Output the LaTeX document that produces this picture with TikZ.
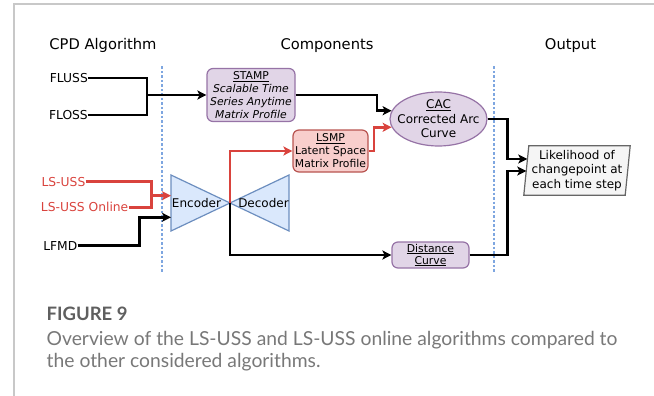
\documentclass[tikz,border=0pt]{standalone}
\usepackage{fontspec}
\setmainfont{DejaVu Sans}[ItalicFont=DejaVu Sans Oblique, BoldFont=DejaVu Sans Bold]
\newfontfamily\capfont{Lato}
\usetikzlibrary{arrows.meta,backgrounds,shapes.geometric}

\definecolor{wirered}{RGB}{217,67,61}
\definecolor{sepblue}{RGB}{126,166,224}
\definecolor{purplefill}{HTML}{E1D5E7}
\definecolor{purpleline}{HTML}{9673A6}
\definecolor{redfill}{HTML}{F8CECC}
\definecolor{redline}{HTML}{B85450}
\definecolor{bluefill}{HTML}{DAE8FC}
\definecolor{blueline}{HTML}{6C8EBF}
\definecolor{greyfill}{HTML}{F5F5F5}
\definecolor{greyline}{HTML}{666666}
\definecolor{framegrey}{RGB}{200,200,200}
\definecolor{figgrey}{RGB}{95,95,95}
\definecolor{capgrey}{RGB}{120,120,120}

\begin{document}
\begin{tikzpicture}[x=1pt,y=-1pt,
  heading/.style={font=\fontsize{14.7}{17}\selectfont, anchor=base},
  algo/.style={font=\fontsize{12.3}{14}\selectfont, inner sep=0pt,
    text height=9pt, text depth=0pt, anchor=east},
  boxtext/.style={font=\fontsize{10.8}{13}\selectfont, align=center},
  purplebox/.style={boxtext, draw=purpleline, fill=purplefill, line width=1.2pt,
    rounded corners=6pt, inner sep=1pt},
  redbox/.style={boxtext, draw=redline, fill=redfill, line width=1.2pt,
    rounded corners=6pt, inner sep=1pt},
  midtext/.style={font=\fontsize{12}{14.5}\selectfont, align=center, inner sep=0pt},
  tip/.style={-{Stealth[length=9pt,width=9pt,inset=2.2pt]}},
  wire/.style={line width=2.8pt, line join=miter, black},
  redwire/.style={line width=2.8pt, line join=miter, wirered},
  separator/.style={sepblue, line width=1.2pt, dash pattern=on 2.5pt off 2pt},
  triangle/.style={draw=blueline, fill=bluefill, line width=1.2pt, line join=miter}
]
\useasboundingbox (0,0) rectangle (654,396);

% page frame
\draw[framegrey, line width=1.3pt] (654,4) -- (14,4) -- (14,396);

% column headings
\node[heading] (hcpd) at (103,49.5) {CPD Algorithm};
\node[heading] (hcomp) at (327,49.5) {Components};
\node[heading] (hout) at (570.5,49.5) {Output};

% column separators
\draw[separator] (162,66.5) -- (162,272);
\draw[separator] (494,66.5) -- (494,272);

% algorithms
\node[algo] (fluss) at (88,78) {FLUSS};
\node[algo] (floss) at (88,115) {FLOSS};
\node[algo, text=wirered] (lsuss) at (85.5,181.7) {LS-USS};
\node[algo, text=wirered] (lsussol) at (128.5,207.3) {LS-USS Online};
\node[algo] (lfmd) at (77.5,245.7) {LFMD};

% components
\node[purplebox, minimum width=88pt, minimum height=53pt] (stamp) at (251,95)
  {\underline{STAMP}\\\textit{Scalable Time}\\\textit{Series Anytime}\\\textit{Matrix Profile}};
\node[redbox, minimum width=75pt, minimum height=42pt] (lsmp) at (330.5,151)
  {\underline{LSMP}\\Latent Space\\Matrix Profile};
\node[ellipse, draw=purpleline, fill=purplefill, line width=1.2pt, inner sep=0pt,
  minimum width=97pt, minimum height=54pt] (cac) at (438.5,119) {};
\node[midtext] (cactext) at (cac.center) {\underline{CAC}\\Corrected Arc\\Curve};
\node[purplebox, minimum width=77pt, minimum height=26pt] (dist) at (430.5,255)
  {\underline{Distance}\\[-1pt]\underline{Curve}};

% encoder / decoder
\coordinate (encNW) at (171,175);
\coordinate (encSW) at (171,231);
\coordinate (waist) at (230,203);
\coordinate (decNE) at (289,175);
\coordinate (decSE) at (289,231);
\draw[triangle] (encNW) -- (encSW) -- (waist) -- cycle;
\draw[triangle] (decNE) -- (decSE) -- (waist) -- cycle;
\node[midtext] (enc) at (196.5,203) {Encoder};
\node[midtext] (dec) at (263.5,203) {Decoder};
\coordinate (encin1) at (171,195.7);
\coordinate (encin2) at (171,217.3);

% output
\node[midtext, minimum width=101pt, minimum height=49pt] (out) at (577,170.5)
  {Likelihood of\\changepoint at\\each time step};
\begin{scope}[on background layer]
  \draw[draw=greyline, fill=greyfill, line width=1.2pt]
    ([xshift=2.5pt]out.north west) -- ([xshift=2.5pt]out.north east) --
    ([xshift=-2.5pt]out.south east) -- ([xshift=-2.5pt]out.south west) -- cycle;
\end{scope}

% bend points
\coordinate (join1) at (147,95);
\coordinate (join2) at (151.7,195.7);
\coordinate (bend1) at (377,95);
\coordinate (bend2) at (374,151);
\coordinate (bend3) at (507.5,119);
\coordinate (bend4) at (507.5,255);
\coordinate (bend5) at (139.3,217.3);

% connectors
\draw[wire] (fluss.east) -| (join1);
\draw[wire] (floss.east) -| (join1);
\draw[wire, tip] (join1) -- (stamp.west);
\draw[wire, tip] (stamp.east) -- (bend1) |- (cac.170);
\draw[redwire, tip] (lsmp.east) -- (bend2) |- (cac.190);
\draw[redwire] (lsuss.east) -| (join2);
\draw[redwire] (lsussol.east) -| (join2);
\draw[redwire, tip] (join2) -- (encin1);
\draw[wire, tip] (lfmd.east) -| (bend5) -- (encin2);
\draw[wire, tip] (waist) |- (dist.west);
\draw[redwire, tip] (waist) |- (lsmp.west);
\draw[wire, tip] (cac.east) -- (bend3) |- ([xshift=1pt,yshift=11.5pt]out.west);
\draw[wire, tip] (dist.east) -- (bend4) |- ([yshift=-0.5pt]out.west);

% caption
\node[anchor=base west, inner sep=0pt, text=figgrey,
  font=\capfont\bfseries\fontsize{18.5}{21}\selectfont] (fig) at (46.5,320) {FIGURE 9};
\node[anchor=base west, inner sep=0pt, text=capgrey,
  font=\capfont\fontsize{19.3}{23}\selectfont] (cap1) at (46.5,345)
  {Overview of the LS-USS and LS-USS online algorithms compared to};
\node[anchor=base west, inner sep=0pt, text=capgrey,
  font=\capfont\fontsize{19.3}{23}\selectfont] (cap2) at (46.5,367.7)
  {the other considered algorithms.};
\end{tikzpicture}
\end{document}
